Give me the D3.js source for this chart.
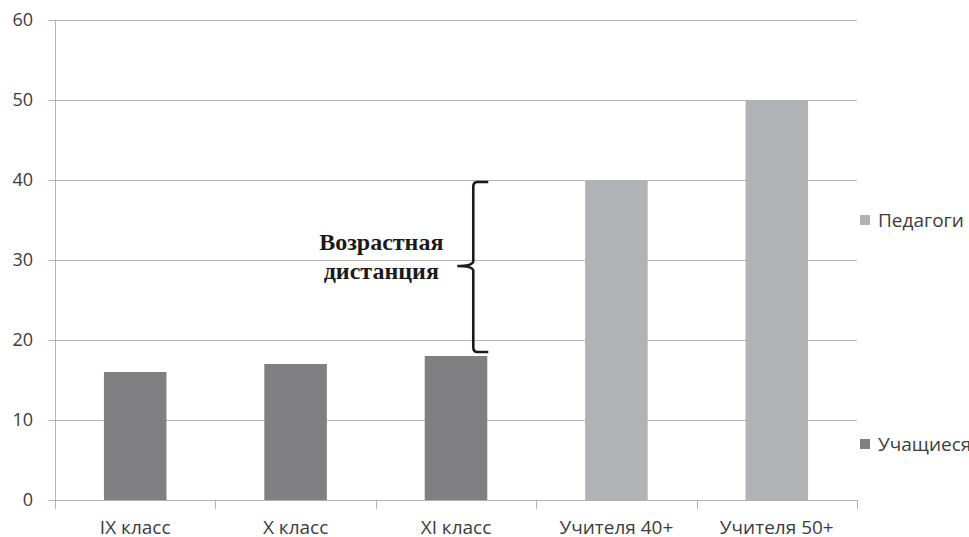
<!DOCTYPE html>
<html>
<head>
<meta charset="utf-8">
<script src="https://cdn.jsdelivr.net/npm/d3@7"></script>
<style>
  body { margin: 0; background: #fff; }
  text { font-family: "Open Sans", sans-serif; fill: #3c3c3c; }
</style>
</head>
<body>
<div id="chart"></div>
<script>
// data
const categories = ["IX класс", "X класс", "XI класс", "Учителя 40+", "Учителя 50+"];
const values = [16, 17, 18, 40, 50];
const groups = ["Учащиеся", "Учащиеся", "Учащиеся", "Педагоги", "Педагоги"];
const yTicks = [0, 10, 20, 30, 40, 50, 60];
const legendItems = ["Педагоги", "Учащиеся"];
const braceRange = [18, 40];

const W = 969, H = 537;
const margin = { top: 20, right: 112, bottom: 37, left: 55 },
      width = W - margin.left - margin.right,
      height = H - margin.top - margin.bottom;

const color = d3.scaleOrdinal()
  .domain(["Учащиеся", "Педагоги"])
  .range(["#808083", "#b1b2b5"]);

const svg = d3.select("#chart")
  .append("svg")
  .attr("width", W)
  .attr("height", H)
  .append("g")
  .attr("transform", `translate(${margin.left},${margin.top})`);

const x = d3.scaleBand()
  .domain(categories)
  .range([0, width])
  .paddingInner(0.61)
  .paddingOuter(0.305);

const y = d3.scaleLinear()
  .domain([0, 60])
  .range([height, 0]);

// gridlines + y labels
svg.selectAll(".grid")
  .data(yTicks)
  .enter().append("line")
  .attr("x1", -7)
  .attr("x2", width)
  .attr("y1", d => y(d) + 0.5)
  .attr("y2", d => y(d) + 0.5)
  .attr("stroke", "#b3b3b3")
  .attr("stroke-width", 1);

svg.selectAll(".ylab")
  .data(yTicks)
  .enter().append("text")
  .attr("x", -22)
  .attr("y", d => y(d))
  .attr("dy", "0.35em")
  .attr("text-anchor", "end")
  .style("font-size", "18px")
  .text(d => d);

// y axis line
svg.append("line")
  .attr("x1", 0.5).attr("x2", 0.5)
  .attr("y1", 0).attr("y2", height)
  .attr("stroke", "#b3b3b3");

// x ticks at band boundaries
const bounds = d3.range(categories.length + 1).map(i => i * width / categories.length);
svg.selectAll(".xtick")
  .data(bounds)
  .enter().append("line")
  .attr("x1", d => Math.round(d) + 0.5)
  .attr("x2", d => Math.round(d) + 0.5)
  .attr("y1", height)
  .attr("y2", height + 9)
  .attr("stroke", "#b3b3b3");

// bars
svg.selectAll(".bar")
  .data(categories)
  .enter().append("rect")
  .attr("x", d => x(d))
  .attr("y", (d, i) => y(values[i]))
  .attr("width", x.bandwidth())
  .attr("height", (d, i) => height - y(values[i]))
  .attr("fill", (d, i) => color(groups[i]));

// x labels
svg.selectAll(".xlab")
  .data(categories)
  .enter().append("text")
  .attr("x", d => x(d) + x.bandwidth() / 2)
  .attr("y", height + 34)
  .attr("text-anchor", "middle")
  .style("font-size", "19px")
  .text(d => d);

// legend
const legendY = { "Педагоги": 200, "Учащиеся": 424 };
const legend = svg.selectAll(".legend")
  .data(legendItems)
  .enter().append("g")
  .attr("transform", d => `translate(${width + 3},${legendY[d]})`);

legend.append("rect")
  .attr("x", 0)
  .attr("y", -5)
  .attr("width", 10)
  .attr("height", 10)
  .attr("fill", d => color(d));

legend.append("text")
  .attr("x", 18)
  .attr("y", 0)
  .attr("dy", "0.35em")
  .style("font-size", "19px")
  .text(d => d);

// brace annotation
const bx = x(categories[2]) + x.bandwidth() - 14;
const yTop = y(braceRange[1]) + 2, yBot = y(braceRange[0]) - 4;
const yMid = (yTop + yBot) / 2 - 1;
const brace = `M${bx + 15},${yTop} L${bx + 4},${yTop} Q${bx},${yTop} ${bx},${yTop + 5}
  L${bx},${yMid - 5} Q${bx},${yMid} ${bx - 16},${yMid} Q${bx},${yMid} ${bx},${yMid + 5}
  L${bx},${yBot - 5} Q${bx},${yBot} ${bx + 4},${yBot} L${bx + 15},${yBot}`;
svg.append("path")
  .attr("d", brace)
  .attr("fill", "none")
  .attr("stroke", "#1a1a1a")
  .attr("stroke-width", 2.6);

const note = svg.append("text")
  .attr("text-anchor", "middle")
  .style("font-family", "'Liberation Serif', serif")
  .style("font-weight", "bold")
  .style("font-size", "24px")
  .style("fill", "#1a1a1a");
note.append("tspan").attr("x", bx - 92).attr("y", yMid - 16).text("Возрастная");
note.append("tspan").attr("x", bx - 92).attr("y", yMid + 13).text("дистанция");
</script>
</body>
</html>
